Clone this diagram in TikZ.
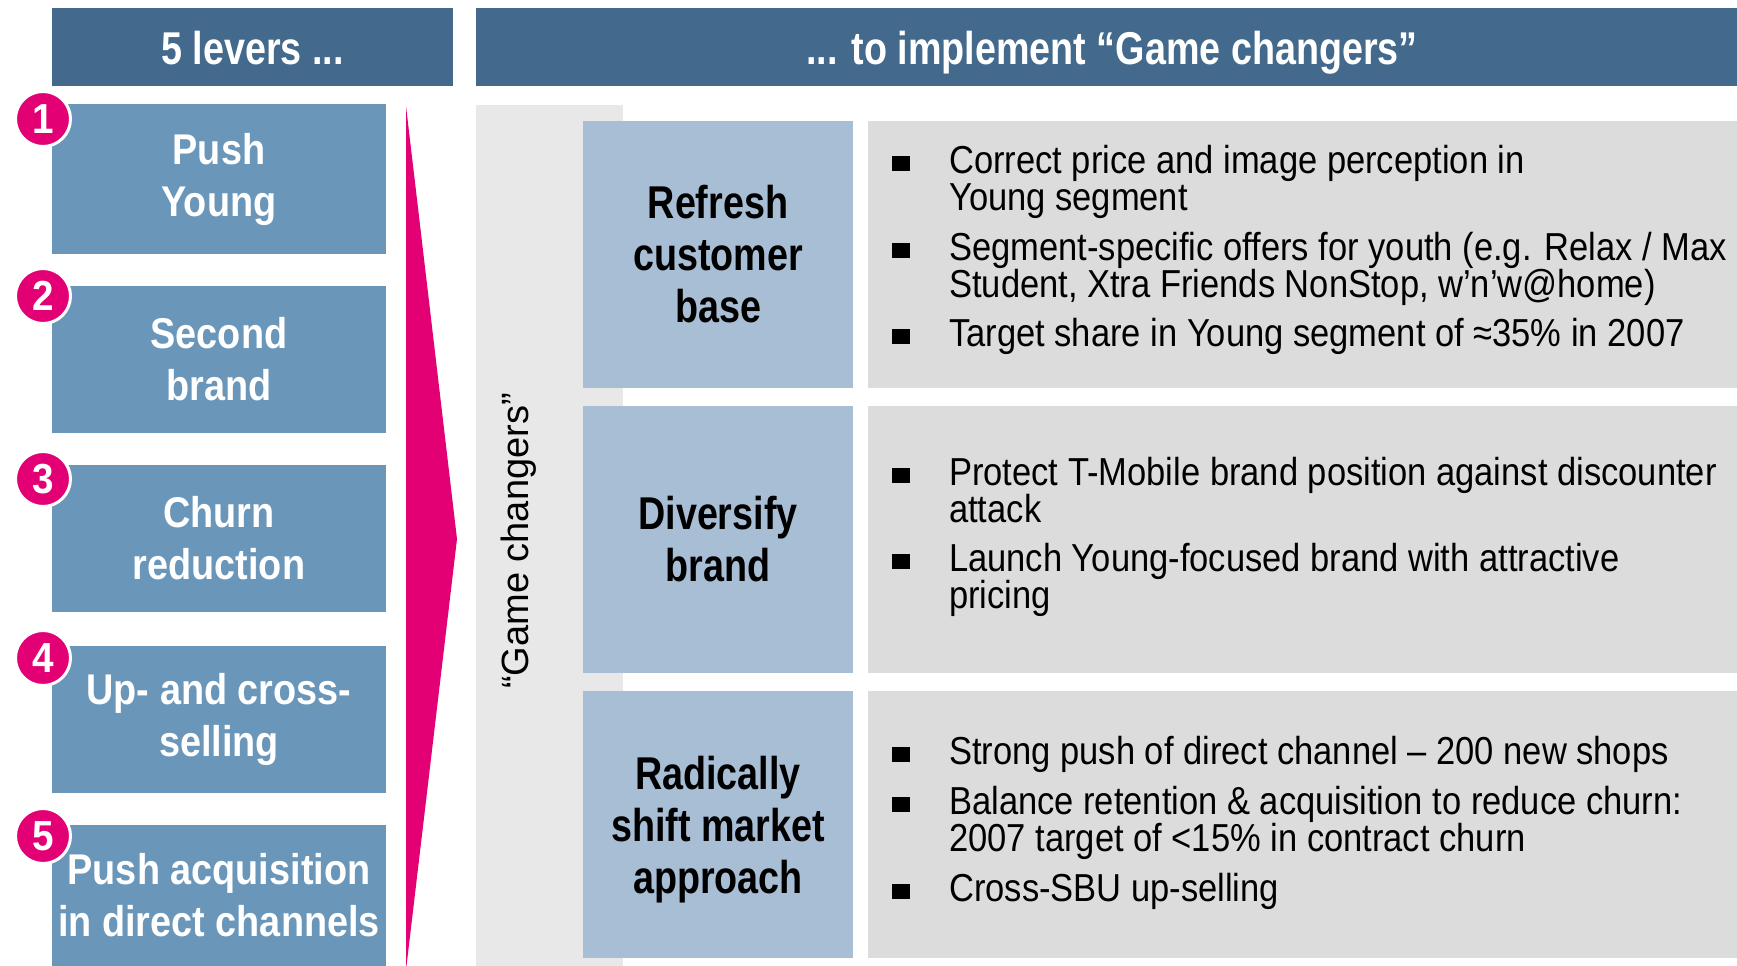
\documentclass[tikz,border=0pt]{standalone}
\usepackage{fontspec}
\setmainfont{Liberation Sans}
\newfontfamily\hdrfont[UprightFont={* Bold},FakeStretch=0.82]{Liberation Sans}
\newfontfamily\levfont[UprightFont={* Bold},FakeStretch=0.88]{Liberation Sans}
\newfontfamily\numfont[UprightFont={* Bold},FakeStretch=0.92]{Liberation Sans}
\newfontfamily\bodyfont[FakeStretch=0.885]{Liberation Sans}
\newfontfamily\vertfont{Liberation Sans}
\definecolor{hdrblue}{HTML}{43698C}
\definecolor{levblue}{HTML}{6A96B9}
\definecolor{gcblue}{HTML}{A8BED5}
\definecolor{boxgray}{HTML}{DCDCDC}
\definecolor{stripgray}{HTML}{E8E8E8}
\definecolor{tmagenta}{HTML}{E20074}
\tikzset{
  hdr/.style={fill=hdrblue, text=white, inner sep=0, text height=36pt, text depth=0pt, font=\hdrfont\fontsize{46}{52}\selectfont},
  lever/.style={fill=levblue, text=white, align=center, inner sep=0, minimum width=334pt, font=\levfont\fontsize{43}{52}\selectfont},
  num/.style={circle, fill=tmagenta, draw=white, line width=3pt, minimum size=55pt, inner sep=0, text=white, font=\numfont\fontsize{42}{42}\selectfont},
  gc/.style={fill=gcblue, text=black, align=center, inner sep=0, minimum width=270pt, minimum height=267pt, font=\hdrfont\fontsize{46}{52}\selectfont},
  gbox/.style={fill=boxgray, inner sep=0, minimum width=872pt, minimum height=267pt},
  bodyline/.style={anchor=base west, inner sep=0, text=black, font=\bodyfont\fontsize{39}{37}\selectfont},
  bul/.style={fill=black, minimum width=18pt, minimum height=15pt, inner sep=0, anchor=south west}
}
\begin{document}
\begin{tikzpicture}[x=1pt,y=-1pt]
\useasboundingbox (0,0) rectangle (1737,966);
\fill[white] (0,0) rectangle (1737,966);
% headers
\node[hdr, minimum width=401pt, minimum height=78pt] (h1) at (252.5,47) {5 levers ...};
\node[hdr, minimum width=1272pt, minimum height=78pt] (h2) at (1112,47) {... to implement “Game changers”};
% magenta wedge
\fill[tmagenta] (406,106) -- (457,539) -- (406,970) -- cycle;
% lever boxes
\node[lever, minimum height=150pt] (l1) at (219,179) {Push\\Young};
\node[lever, minimum height=147pt] (l2) at (219,359.5) {Second\\brand};
\node[lever, minimum height=147pt] (l3) at (219,538.5) {Churn\\reduction};
\node[lever, minimum height=147pt] (l4) at (219,719.5) {Up- and cross-\\selling};
\node[lever, minimum height=141pt] (l5) at (219,895.5) {Push acquisition\\in direct channels};
% numbers
\node[num] (n1) at (43,119) {1};
\node[num] (n2) at (43,296) {2};
\node[num] (n3) at (43,479) {3};
\node[num] (n4) at (43,658) {4};
\node[num] (n5) at (43,836) {5};
% game changer strip
\fill[stripgray] (476,105) rectangle (623,970);
\node[rotate=90, inner sep=0, font=\vertfont\fontsize{38}{40}\selectfont] (vt) at (519,541) {“Game changers”};
% game changer boxes
\node[gc] (g1) at (718,254.5) {Refresh\\customer\\base};
\node[gc] (g2) at (718,539.5) {Diversify\\brand};
\node[gc, text depth=0pt] (g3) at (718,824.5) {Radically\\shift market\\approach};
\node[gbox] (r1) at (1304,254.5) {};
\node[gbox] (r2) at (1304,539.5) {};
\node[gbox] (r3) at (1304,824.5) {};
% row 1 text
\node[bul] (b11) at (892,171) {};
\node[bul] (b12) at (892,258) {};
\node[bul] (b13) at (892,344) {};
\node[bodyline] (t11) at (949,173) {Correct price and image perception in};
\node[bodyline] (t12) at (949,210) {Young segment};
\node[bodyline] (t13) at (949,260) {Segment-specific offers for youth (e.g. Relax / Max};
\node[bodyline] (t14) at (949,297) {Student, Xtra Friends NonStop, w’n’w@home)};
\node[bodyline] (t15) at (949,346) {Target share in Young segment of ≈35\% in 2007};
% row 2 text
\node[bul] (b21) at (892,483) {};
\node[bul] (b22) at (892,569) {};
\node[bodyline] (t21) at (949,485) {Protect T-Mobile brand position against discounter};
\node[bodyline] (t22) at (949,522) {attack};
\node[bodyline] (t23) at (949,571) {Launch Young-focused brand with attractive};
\node[bodyline] (t24) at (949,608) {pricing};
% row 3 text
\node[bul] (b31) at (892,762) {};
\node[bul] (b32) at (892,812) {};
\node[bul] (b33) at (892,899) {};
\node[bodyline] (t31) at (949,764) {Strong push of direct channel – 200 new shops};
\node[bodyline] (t32) at (949,814) {Balance retention \& acquisition to reduce churn:};
\node[bodyline] (t33) at (949,851) {2007 target of <15\% in contract churn};
\node[bodyline] (t34) at (949,901) {Cross-SBU up-selling};
\end{tikzpicture}
\end{document}
